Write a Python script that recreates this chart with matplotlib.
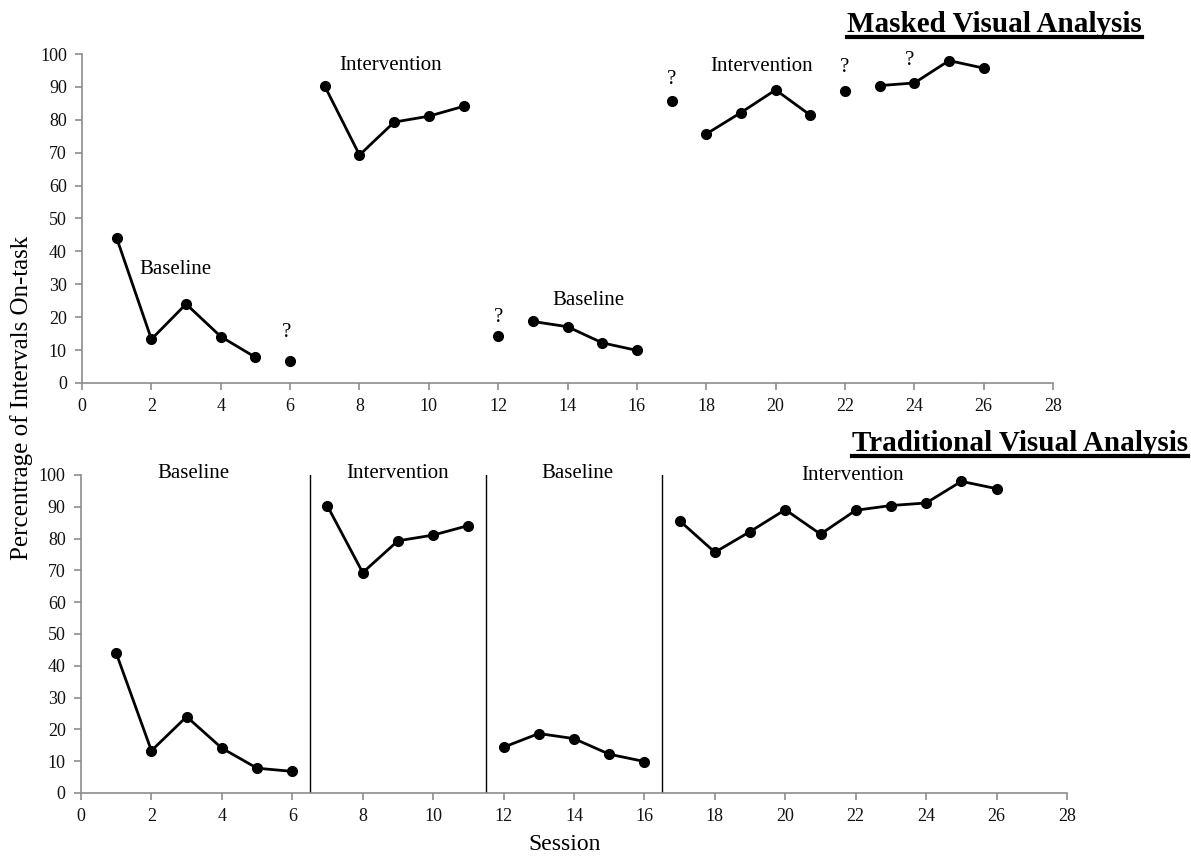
import matplotlib
matplotlib.use("Agg")
import matplotlib.pyplot as plt
from matplotlib.lines import Line2D

plt.rcParams["font.family"] = ["Liberation Serif", "DejaVu Serif"]

sessions = list(range(1, 27))
on_task = [44, 13.3, 24, 14.1, 7.8, 6.8,
           90.2, 69.3, 79.3, 81.1, 84.1,
           14.4, 18.7, 17.1, 12.2, 9.9,
           85.6, 75.7, 82.2, 89.1, 81.4, 88.9, 90.4, 91.2, 98.0, 95.7]

# phase groups (first, last session) for connecting lines
masked_groups = [(1, 5), (6, 6), (7, 11), (12, 12), (13, 16), (17, 17),
                 (18, 21), (22, 22), (23, 26)]
traditional_groups = [(1, 6), (7, 11), (12, 16), (17, 26)]
phase_changes = [6.5, 11.5, 16.5]

masked_labels = [
    ("Baseline", 2.7, 34.6),
    ("Intervention", 8.9, 96.6),
    ("?", 5.9, 15.2),
    ("?", 12.0, 20.0),
    ("Baseline", 14.6, 25.0),
    ("?", 17.0, 92.2),
    ("Intervention", 19.6, 96.2),
    ("?", 22.0, 96.0),
    ("?", 23.85, 98.0),
]
traditional_labels = [
    ("Baseline", 3.2, 100.5),
    ("Intervention", 9.0, 100.5),
    ("Baseline", 14.1, 100.5),
    ("Intervention", 21.9, 99.8),
]

SPINE = "#8c8c8c"


def style_axes(ax):
    ax.set_xlim(0, 28)
    ax.set_ylim(0, 100)
    ax.set_xticks(range(0, 29, 2))
    ax.set_yticks(range(0, 101, 10))
    for side in ["top", "right"]:
        ax.spines[side].set_visible(False)
    for side in ["left", "bottom"]:
        ax.spines[side].set_color(SPINE)
        ax.spines[side].set_linewidth(1.2)
    ax.tick_params(direction="out", length=5, width=1.2, color=SPINE,
                   labelsize=13, labelcolor="#111111", pad=6)


def draw_groups(ax, groups):
    for first, last in groups:
        xs = sessions[first - 1:last]
        ys = on_task[first - 1:last]
        ax.plot(xs, ys, color="black", linewidth=2, marker="o",
                markersize=7, clip_on=False)


def underlined_title(fig, x, y, text):
    t = fig.text(x, y, text, fontsize=21, fontweight="bold",
                 ha="left", va="center")
    fig.canvas.draw()
    bb = t.get_window_extent().transformed(fig.transFigure.inverted())
    yl = bb.y0 + 0.001
    fig.add_artist(Line2D([bb.x0, bb.x1], [yl, yl], color="black",
                          linewidth=3, transform=fig.transFigure))


fig = plt.figure(figsize=(11.91, 8.56), dpi=100, facecolor="white")

ax1 = fig.add_axes((0.0689, 0.5526, 0.8153, 0.3843))
style_axes(ax1)
draw_groups(ax1, masked_groups)
for text, x, y in masked_labels:
    ax1.text(x, y, text, fontsize=15, ha="center", va="center")

ax2 = fig.add_axes((0.068, 0.0736, 0.8279, 0.3715))
style_axes(ax2)
draw_groups(ax2, traditional_groups)
for xc in phase_changes:
    ax2.axvline(xc, ymin=0, ymax=1, color="black", linewidth=1)
for text, x, y in traditional_labels:
    ax2.text(x, y, text, fontsize=15, ha="center", va="center")

fig.text(0.018, 0.535, "Percentrage of Intervals On-task", rotation=90,
         fontsize=18, ha="center", va="center")
fig.text(0.474, 0.013, "Session", fontsize=17, ha="center", va="center")

underlined_title(fig, 847 / 1191, 1 - 24 / 856, "Masked Visual Analysis")
underlined_title(fig, 852 / 1191, 1 - 443 / 856, "Traditional Visual Analysis")

fig.savefig("out.png", dpi=100, facecolor="white")
